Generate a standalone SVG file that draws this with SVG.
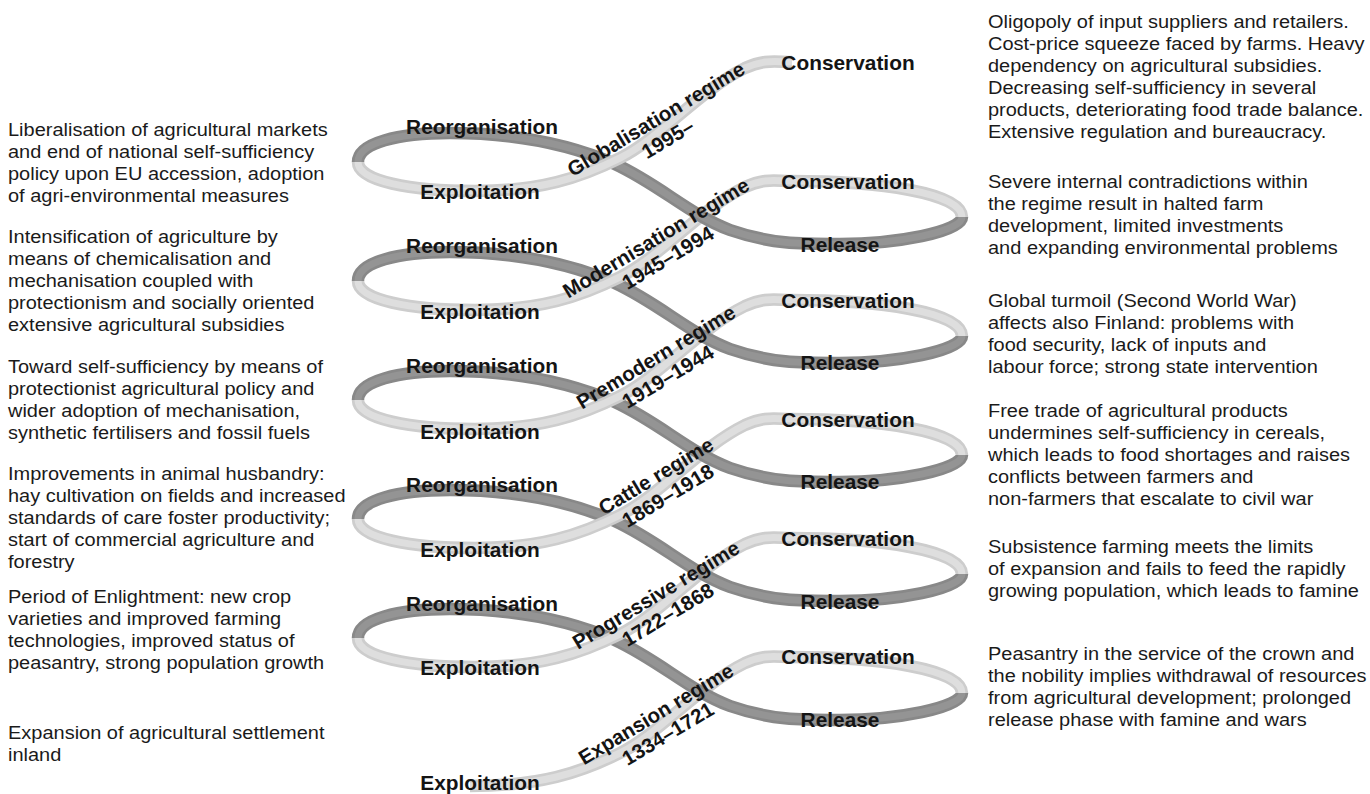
<svg xmlns="http://www.w3.org/2000/svg" xmlns:xlink="http://www.w3.org/1999/xlink" width="1370" height="794" viewBox="0 0 1370 794">
<style>
.lb{fill:none;stroke:#cdcdcd;stroke-width:12.5}
.li{fill:none;stroke:#dedede;stroke-width:7}
.db{fill:none;stroke:#888888;stroke-width:12.5}
.di{fill:none;stroke:#949494;stroke-width:7}
.ph{font-family:"Liberation Sans",Arial,sans-serif;font-weight:bold;font-size:19.5px;fill:#141414;text-anchor:middle}
.rg{font-family:"Liberation Sans",Arial,sans-serif;font-weight:bold;font-size:20.5px;fill:#141414;text-anchor:middle}
.tx{font-family:"Liberation Sans",Arial,sans-serif;font-size:18.5px;fill:#1a1a1a}
</style>
<defs>
<path id="dark" d="M358,162 C358,143 398,133 450,133 C505,133 560,140 615,164 C660,185 690,215 730,230 C770,244 800,244 840,244 C895,244 962,232 962,217"/>
<path id="light" d="M358,162 C358,181 410,191 475,191 C540,191 580,178 620,158 C660,138 700,90 745,68 C765,59 775,62 790,62 C880,62 962,74 962,98"/>
<path id="lighttop" d="M358,162 C358,181 410,191 475,191 C540,191 580,178 620,158 C660,138 700,90 745,68 C765,59 775,62 792,62"/>
<path id="lightbot" d="M470,191 C540,191 580,178 620,158 C660,138 700,90 745,68 C765,59 775,62 790,62 C880,62 962,74 962,98"/>
</defs>
<rect width="1370" height="794" fill="#ffffff"/>
<g id="bands">
<g transform="translate(0,595)"><use xlink:href="#lightbot" class="lb"/><use xlink:href="#lightbot" class="li"/></g>
<g transform="translate(0,476)"><use xlink:href="#dark" class="db"/><use xlink:href="#dark" class="di"/><use xlink:href="#light" class="lb"/><use xlink:href="#light" class="li"/></g>
<g transform="translate(0,357)"><use xlink:href="#dark" class="db"/><use xlink:href="#dark" class="di"/><use xlink:href="#light" class="lb"/><use xlink:href="#light" class="li"/></g>
<g transform="translate(0,238)"><use xlink:href="#dark" class="db"/><use xlink:href="#dark" class="di"/><use xlink:href="#light" class="lb"/><use xlink:href="#light" class="li"/></g>
<g transform="translate(0,119)"><use xlink:href="#dark" class="db"/><use xlink:href="#dark" class="di"/><use xlink:href="#light" class="lb"/><use xlink:href="#light" class="li"/></g>
<g><use xlink:href="#dark" class="db"/><use xlink:href="#dark" class="di"/><use xlink:href="#lighttop" class="lb"/><use xlink:href="#lighttop" class="li"/></g>
</g>

<g id="regime-globalisation">
<g transform="translate(848,0) scale(1.07,1)"><text class="ph" y="70">Conservation</text></g>
<g transform="translate(482,0) scale(1.07,1)"><text class="ph" y="134">Reorganisation</text></g>
<g transform="translate(480,0) scale(1.07,1)"><text class="ph" y="199">Exploitation</text></g>
<g transform="translate(656,119) rotate(-31)"><text class="rg" y="7">Globalisation regime</text><text class="rg" y="30">1995–</text></g>
<g transform="translate(8,0) scale(1.08,1)"><text class="tx" y="136"><tspan x="0">Liberalisation of agricultural markets</tspan><tspan x="0" y="158">and end of national self-sufficiency</tspan><tspan x="0" y="180">policy upon EU accession, adoption</tspan><tspan x="0" y="202">of agri-environmental measures</tspan></text></g>
<g transform="translate(988,0) scale(1.08,1)"><text class="tx" y="28"><tspan x="0">Oligopoly of input suppliers and retailers.</tspan><tspan x="0" y="50">Cost-price squeeze faced by farms. Heavy</tspan><tspan x="0" y="72">dependency on agricultural subsidies.</tspan><tspan x="0" y="94">Decreasing self-sufficiency in several</tspan><tspan x="0" y="116">products, deteriorating food trade balance.</tspan><tspan x="0" y="138">Extensive regulation and bureaucracy.</tspan></text></g>
</g>

<g id="regime-modernisation">
<g transform="translate(848,0) scale(1.07,1)"><text class="ph" y="189">Conservation</text></g>
<g transform="translate(840,0) scale(1.07,1)"><text class="ph" y="252">Release</text></g>
<g transform="translate(482,0) scale(1.07,1)"><text class="ph" y="253">Reorganisation</text></g>
<g transform="translate(480,0) scale(1.07,1)"><text class="ph" y="319">Exploitation</text></g>
<g transform="translate(656,238) rotate(-31)"><text class="rg" y="7">Modernisation regime</text><text class="rg" y="30">1945–1994</text></g>
<g transform="translate(8,0) scale(1.08,1)"><text class="tx" y="243"><tspan x="0">Intensification of agriculture by</tspan><tspan x="0" y="265">means of chemicalisation and</tspan><tspan x="0" y="287">mechanisation coupled with</tspan><tspan x="0" y="309">protectionism and socially oriented</tspan><tspan x="0" y="331">extensive agricultural subsidies</tspan></text></g>
<g transform="translate(988,0) scale(1.08,1)"><text class="tx" y="188"><tspan x="0">Severe internal contradictions within</tspan><tspan x="0" y="210">the regime result in halted farm</tspan><tspan x="0" y="232">development, limited investments</tspan><tspan x="0" y="254">and expanding environmental problems</tspan></text></g>
</g>

<g id="regime-premodern">
<g transform="translate(848,0) scale(1.07,1)"><text class="ph" y="308">Conservation</text></g>
<g transform="translate(840,0) scale(1.07,1)"><text class="ph" y="370">Release</text></g>
<g transform="translate(482,0) scale(1.07,1)"><text class="ph" y="373">Reorganisation</text></g>
<g transform="translate(480,0) scale(1.07,1)"><text class="ph" y="439">Exploitation</text></g>
<g transform="translate(656,357) rotate(-31)"><text class="rg" y="7">Premodern regime</text><text class="rg" y="30">1919–1944</text></g>
<g transform="translate(8,0) scale(1.08,1)"><text class="tx" y="373"><tspan x="0">Toward self-sufficiency by means of</tspan><tspan x="0" y="395">protectionist agricultural policy and</tspan><tspan x="0" y="417">wider adoption of mechanisation,</tspan><tspan x="0" y="439">synthetic fertilisers and fossil fuels</tspan></text></g>
<g transform="translate(988,0) scale(1.08,1)"><text class="tx" y="307"><tspan x="0">Global turmoil (Second World War)</tspan><tspan x="0" y="329">affects also Finland: problems with</tspan><tspan x="0" y="351">food security, lack of inputs and</tspan><tspan x="0" y="373">labour force; strong state intervention</tspan></text></g>
</g>

<g id="regime-cattle">
<g transform="translate(848,0) scale(1.07,1)"><text class="ph" y="427">Conservation</text></g>
<g transform="translate(840,0) scale(1.07,1)"><text class="ph" y="489">Release</text></g>
<g transform="translate(482,0) scale(1.07,1)"><text class="ph" y="492">Reorganisation</text></g>
<g transform="translate(480,0) scale(1.07,1)"><text class="ph" y="557">Exploitation</text></g>
<g transform="translate(656,476) rotate(-31)"><text class="rg" y="7">Cattle regime</text><text class="rg" y="30">1869–1918</text></g>
<g transform="translate(8,0) scale(1.08,1)"><text class="tx" y="480"><tspan x="0">Improvements in animal husbandry:</tspan><tspan x="0" y="502">hay cultivation on fields and increased</tspan><tspan x="0" y="524">standards of care foster productivity;</tspan><tspan x="0" y="546">start of commercial agriculture and</tspan><tspan x="0" y="568">forestry</tspan></text></g>
<g transform="translate(988,0) scale(1.08,1)"><text class="tx" y="417"><tspan x="0">Free trade of agricultural products</tspan><tspan x="0" y="439">undermines self-sufficiency in cereals,</tspan><tspan x="0" y="461">which leads to food shortages and raises</tspan><tspan x="0" y="483">conflicts between farmers and</tspan><tspan x="0" y="505">non-farmers that escalate to civil war</tspan></text></g>
</g>

<g id="regime-progressive">
<g transform="translate(848,0) scale(1.07,1)"><text class="ph" y="546">Conservation</text></g>
<g transform="translate(840,0) scale(1.07,1)"><text class="ph" y="609">Release</text></g>
<g transform="translate(482,0) scale(1.07,1)"><text class="ph" y="611">Reorganisation</text></g>
<g transform="translate(480,0) scale(1.07,1)"><text class="ph" y="675">Exploitation</text></g>
<g transform="translate(656,595) rotate(-31)"><text class="rg" y="7">Progressive regime</text><text class="rg" y="30">1722–1868</text></g>
<g transform="translate(8,0) scale(1.08,1)"><text class="tx" y="603"><tspan x="0">Period of Enlightment: new crop</tspan><tspan x="0" y="625">varieties and improved farming</tspan><tspan x="0" y="647">technologies, improved status of</tspan><tspan x="0" y="669">peasantry, strong population growth</tspan></text></g>
<g transform="translate(988,0) scale(1.08,1)"><text class="tx" y="553"><tspan x="0">Subsistence farming meets the limits</tspan><tspan x="0" y="575">of expansion and fails to feed the rapidly</tspan><tspan x="0" y="597">growing population, which leads to famine</tspan></text></g>
</g>

<g id="regime-expansion">
<g transform="translate(848,0) scale(1.07,1)"><text class="ph" y="664">Conservation</text></g>
<g transform="translate(840,0) scale(1.07,1)"><text class="ph" y="727">Release</text></g>
<g transform="translate(480,0) scale(1.07,1)"><text class="ph" y="790">Exploitation</text></g>
<g transform="translate(656,714) rotate(-31)"><text class="rg" y="7">Expansion regime</text><text class="rg" y="30">1334–1721</text></g>
<g transform="translate(8,0) scale(1.08,1)"><text class="tx" y="739"><tspan x="0">Expansion of agricultural settlement</tspan><tspan x="0" y="761">inland</tspan></text></g>
<g transform="translate(988,0) scale(1.08,1)"><text class="tx" y="660"><tspan x="0">Peasantry in the service of the crown and</tspan><tspan x="0" y="682">the nobility implies withdrawal of resources</tspan><tspan x="0" y="704">from agricultural development; prolonged</tspan><tspan x="0" y="726">release phase with famine and wars</tspan></text></g>
</g>
</svg>
